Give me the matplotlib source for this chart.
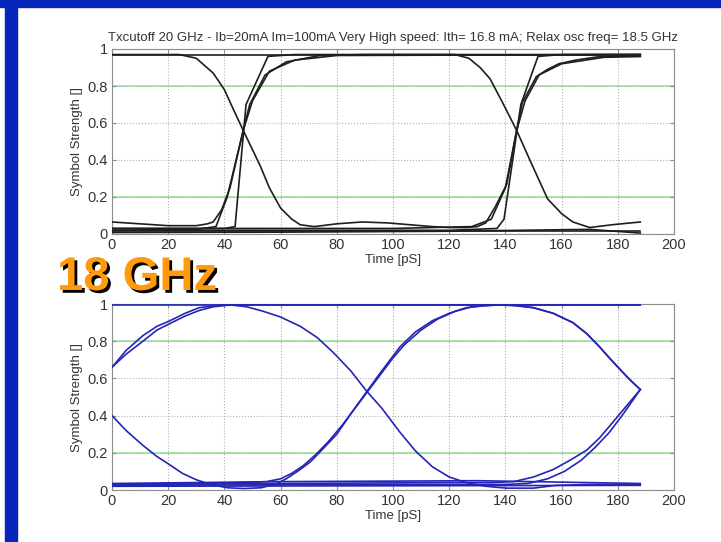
import matplotlib.pyplot as plt
import matplotlib.patheffects as pe
from matplotlib.patches import Rectangle

plt.rcParams['font.family'] = ['Liberation Sans', 'DejaVu Sans']

# ---- data: (time in pS, symbol strength) ----
# top chart, black traces
top_hi_t = [0, 188]
top_hi_v = [0.97, 0.97]

top_fall_t = [0, 24, 30, 36, 40, 43, 46.7, 52.7, 56, 60, 64, 67, 72, 80, 89, 98, 106,
              114, 120, 126, 130, 133, 136.5, 140.5, 144, 146, 151, 155, 159, 165, 174, 188]
top_fall_v = [0.97, 0.97, 0.95, 0.87, 0.78, 0.68, 0.56, 0.37, 0.25, 0.14, 0.08, 0.05, 0.04,
              0.055, 0.065, 0.06, 0.05, 0.04, 0.035, 0.035, 0.04, 0.06, 0.15, 0.27, 0.56,
              0.71, 0.85, 0.89, 0.92, 0.94, 0.96, 0.96]

top_rise_t = [0, 10, 20, 30, 34, 36, 39, 42, 46.7, 49, 54.5, 62, 74, 90, 110, 122, 127,
              131, 134.5, 139, 144, 149, 155, 160, 164, 170, 178, 188]
top_rise_v = [0.065, 0.055, 0.045, 0.045, 0.055, 0.065, 0.13, 0.25, 0.56, 0.70, 0.86, 0.93,
              0.965, 0.97, 0.97, 0.97, 0.95, 0.90, 0.84, 0.71, 0.56, 0.39, 0.19, 0.11,
              0.065, 0.035, 0.05, 0.065]

top_sharp1_t = [0, 30, 40, 43.8, 47.7, 55.5, 65, 188]
top_sharp1_v = [0.03, 0.03, 0.03, 0.04, 0.70, 0.96, 0.97, 0.97]

top_mid1_t = [0, 30, 37, 41, 46.7, 50, 56, 65, 80, 188]
top_mid1_v = [0.02, 0.025, 0.04, 0.2, 0.56, 0.72, 0.88, 0.94, 0.965, 0.97]

top_sharp2_t = [0, 120, 137, 139.5, 145.5, 151.6, 160, 188]
top_sharp2_v = [0.02, 0.02, 0.03, 0.08, 0.70, 0.96, 0.97, 0.97]

top_mid2_t = [0, 100, 128, 135, 140, 144, 147, 152, 160, 175, 188]
top_mid2_v = [0.03, 0.03, 0.04, 0.08, 0.25, 0.56, 0.72, 0.86, 0.92, 0.955, 0.96]

top_low_t = [0, 60, 120, 170, 188]
top_low_v = [0.008, 0.01, 0.015, 0.025, 0.005]

top_low2_t = [0, 188]
top_low2_v = [0.015, 0.015]

# bottom chart, blue traces
bot_hi_t = [0, 188]
bot_hi_v = [0.995, 0.995]

bot_arc1_t = [0, 5, 11, 16, 20.6, 26, 31, 36, 42, 48, 54, 60, 67, 73, 78.7, 85, 90.7, 96,
              102.5, 108, 114, 120, 126, 133, 140.5, 150, 158, 170, 188]
bot_arc1_v = [0.66, 0.75, 0.83, 0.88, 0.91, 0.95, 0.98, 0.99, 0.995, 0.985, 0.96, 0.93,
              0.88, 0.82, 0.74, 0.64, 0.53, 0.44, 0.31, 0.21, 0.125, 0.07, 0.04, 0.02,
              0.01, 0.01, 0.025, 0.03, 0.03]

bot_arc1b_t = [0, 5, 11, 16, 20.6, 26, 31, 36, 42, 48, 188]
bot_arc1b_v = [0.66, 0.73, 0.80, 0.86, 0.895, 0.935, 0.965, 0.985, 0.995, 0.995, 0.995]

bot_arc2_t = [0, 5, 11, 16, 20.6, 25, 30, 35, 41, 47, 53, 58, 62, 66, 70.5, 75, 80, 85,
              90.7, 95, 99, 102.5, 108, 114, 120, 126, 132, 138, 144, 150, 157, 164, 169,
              173.5, 177, 181, 184.5, 188]
bot_arc2_v = [0.40, 0.32, 0.24, 0.18, 0.135, 0.09, 0.055, 0.03, 0.012, 0.008, 0.012, 0.03,
              0.06, 0.1, 0.15, 0.22, 0.30, 0.41, 0.53, 0.62, 0.70, 0.77, 0.85, 0.91, 0.95,
              0.98, 0.99, 0.995, 0.99, 0.98, 0.95, 0.90, 0.84, 0.77, 0.71, 0.645, 0.59, 0.54]

bot_arc2b_t = [0, 30, 45, 55, 60, 64, 68, 72.5, 77, 82, 87, 91.5, 96, 100, 104, 110, 116,
               122, 128, 136, 142, 150, 157, 164, 169, 173.5, 177, 181, 184.5, 188]
bot_arc2b_v = [0.03, 0.035, 0.04, 0.045, 0.06, 0.09, 0.13, 0.19, 0.26, 0.35, 0.45, 0.54,
               0.63, 0.71, 0.78, 0.86, 0.92, 0.96, 0.985, 0.995, 0.995, 0.98, 0.95, 0.90,
               0.84, 0.77, 0.71, 0.645, 0.59, 0.54]

bot_end1_t = [0, 60, 120, 135, 143, 150, 157, 163, 169, 173.5, 178, 183, 188]
bot_end1_v = [0.03, 0.035, 0.04, 0.04, 0.045, 0.07, 0.11, 0.16, 0.215, 0.28, 0.36, 0.45, 0.54]

bot_end2_t = [0, 100, 140, 148, 155, 161, 167, 172, 177, 182, 188]
bot_end2_v = [0.025, 0.03, 0.03, 0.035, 0.06, 0.1, 0.16, 0.23, 0.31, 0.41, 0.54]

bot_low1_t = [0, 188]
bot_low1_v = [0.02, 0.025]
bot_low2_t = [0, 60, 130, 188]
bot_low2_v = [0.035, 0.045, 0.05, 0.035]

top_traces = [(top_hi_t, top_hi_v), (top_fall_t, top_fall_v), (top_rise_t, top_rise_v),
              (top_sharp1_t, top_sharp1_v), (top_mid1_t, top_mid1_v),
              (top_sharp2_t, top_sharp2_v), (top_mid2_t, top_mid2_v),
              (top_low_t, top_low_v), (top_low2_t, top_low2_v)]
bot_traces = [(bot_hi_t, bot_hi_v), (bot_arc1_t, bot_arc1_v), (bot_arc1b_t, bot_arc1b_v),
              (bot_arc2_t, bot_arc2_v), (bot_arc2b_t, bot_arc2b_v),
              (bot_end1_t, bot_end1_v), (bot_end2_t, bot_end2_v),
              (bot_low1_t, bot_low1_v), (bot_low2_t, bot_low2_v)]

title = 'Txcutoff 20 GHz - Ib=20mA Im=100mA Very High speed: Ith= 16.8 mA; Relax osc freq= 18.5 GHz'
xticks = [0, 20, 40, 60, 80, 100, 120, 140, 160, 180, 200]
yticks = [0, 0.2, 0.4, 0.6, 0.8, 1]
ytick_labels = ['0', '0.2', '0.4', '0.6', '0.8', '1']

fig = plt.figure(figsize=(7.21, 5.42), dpi=100)

# slide frame: blue bar across the top and down the left side
slide_blue = '#0526b8'
fig.patches.append(Rectangle((0, 1 - 7 / 542), 1, 7 / 542, transform=fig.transFigure,
                             color=slide_blue, zorder=0))
fig.patches.append(Rectangle((5 / 721, 0), 12 / 721, 1, transform=fig.transFigure,
                             color=slide_blue, zorder=0))


def style_axes(ax):
    ax.set_xlim(0, 200)
    ax.set_ylim(0, 1)
    ax.set_xticks(xticks)
    ax.set_yticks(yticks)
    ax.set_yticklabels(ytick_labels)
    ax.grid(True, linestyle=':', color='#b0b0b0', linewidth=0.8)
    for y in [0.2, 0.8]:
        ax.axhline(y, color='#a6e6a0', linewidth=1.3, zorder=1.5)
    for s in ax.spines.values():
        s.set_color('#8c8c8c')
    ax.tick_params(direction='in', length=3, top=True, right=True, colors='#8c8c8c',
                   labelcolor='#333333', labelsize=10.5, pad=3)
    ax.set_xlabel('Time [pS]', fontsize=9.5, color='#333333', labelpad=1)
    ax.set_ylabel('Symbol Strength []', fontsize=9.5, color='#333333', labelpad=3)


ax1 = fig.add_axes([112 / 721, 1 - 234 / 542, 562 / 721, 185 / 542])
for t, v in top_traces:
    ax1.plot(t, v, color='#1e1e1e', linewidth=1.2, zorder=3)
style_axes(ax1)
ax1.set_title(title, fontsize=9.5, color='#333333', pad=6)

ax2 = fig.add_axes([112 / 721, 1 - 490 / 542, 562 / 721, 186 / 542])
for t, v in bot_traces:
    ax2.plot(t, v, color='#2525b5', linewidth=1.2, zorder=3)
style_axes(ax2)

# big orange label between the two charts
fig.text(57 / 721, 1 - 290 / 542, '18 GHz', fontsize=34, fontweight='bold', color='#ff9a0a',
         path_effects=[pe.SimplePatchShadow(offset=(2, -2), shadow_rgbFace='black', alpha=1.0),
                       pe.Normal()])

plt.savefig('out.png', dpi=100)
